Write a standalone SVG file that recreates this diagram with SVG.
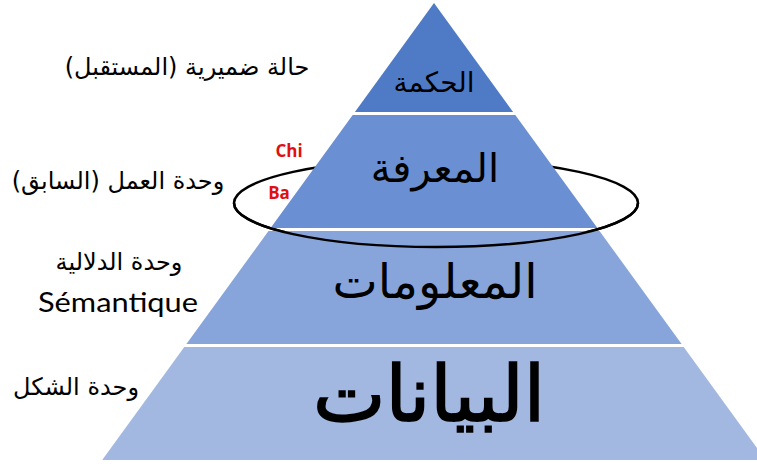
<svg xmlns="http://www.w3.org/2000/svg" width="757" height="464" viewBox="0 0 757 464">
<style>
.ar{font-family:"DejaVu Sans",sans-serif;fill:#000;}
.lbl{font-size:24px;}
.red{font-family:"Open Sans","Liberation Sans",sans-serif;font-weight:bold;fill:#e01010;font-size:17px;}
.ring{fill:none;stroke:#000;stroke-width:2.5;}
</style>
<rect width="757" height="464" fill="#fff"/>
<g id="connectors">
<ellipse class="ring" cx="436" cy="203" rx="202" ry="44"/>
</g>
<g id="tier-wisdom">
<polygon points="434,3 513.1,112 354.9,112" fill="#4F7BC6"/>
<text class="ar" x="434" y="92" font-size="28" text-anchor="middle" direction="rtl">الحكمة</text>
</g>
<g id="tier-knowledge">
<polygon points="352.7,115 515.3,115 597.4,228 270.6,228" fill="#6A8FD2"/>
<text class="ar" x="435" y="182" font-size="40" text-anchor="middle" direction="rtl">المعرفة</text>
</g>
<g id="tier-information">
<polygon points="268.5,231 599.5,231 681.6,344 186.4,344" fill="#87A5DB"/>
<text class="ar" x="435" y="298" font-size="48" text-anchor="middle" direction="rtl">المعلومات</text>
</g>
<g id="tier-data">
<polygon points="184.3,347 683.7,347 765.8,460 102.2,460" fill="#A2B8E0"/>
<text class="ar" x="429" y="421" font-size="77" stroke="#000" stroke-width="1.6" text-anchor="middle" direction="rtl">البيانات</text>
</g>
<g id="ring-front">
<path class="ring" d="M234,203 A202,44 0 0 0 638,203"/>
</g>
<g id="labels">
<text class="ar lbl" x="187" y="75" text-anchor="middle" direction="rtl">حالة ضميرية (المستقبل)</text>
<text class="ar lbl" x="118" y="189" text-anchor="middle" direction="rtl">وحدة العمل (السابق)</text>
<text class="ar lbl" x="119" y="270" text-anchor="middle" direction="rtl">وحدة الدلالية</text>
<text x="118" y="312" text-anchor="middle" font-family="Lato,'Open Sans',sans-serif" font-size="26" textLength="160" lengthAdjust="spacingAndGlyphs" fill="#000">Sémantique</text>
<text class="ar lbl" x="76" y="395" text-anchor="middle" direction="rtl">وحدة الشكل</text>
<text class="red" x="289" y="157" text-anchor="middle">Chi</text>
<text class="red" x="279" y="199" text-anchor="middle">Ba</text>
</g>
</svg>
